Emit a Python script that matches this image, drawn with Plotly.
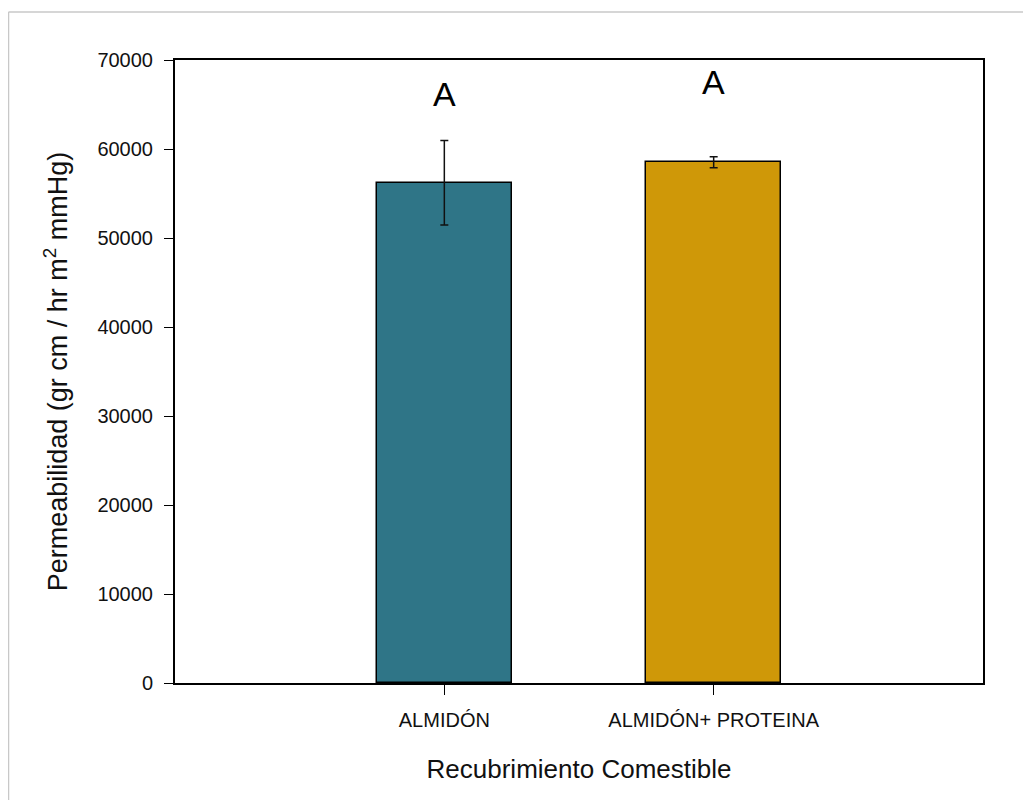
import plotly.graph_objects as go

categories = ["ALMIDÓN", "ALMIDÓN+ PROTEINA"]
positions = [1, 2]
means = [56200, 58500]
errors = [4750, 620]
bar_colors = ["#2f7587", "#cf9808"]
letters = ["A", "A"]
letter_y = [66200, 67500]
y_ticks = [0, 10000, 20000, 30000, 40000, 50000, 60000, 70000]

# page has an 8px body margin, so the figure is placed at (8, 8)
OFF = 8
W, H = 1031 - OFF, 800 - OFF
L, T = 175 - OFF, 60 - OFF
R = W - (983 - OFF)
B = H - (683 - OFF)
pw, ph = W - L - R, H - T - B

fig = go.Figure()
fig.add_trace(go.Bar(
    x=positions, y=means, width=0.5,
    marker=dict(color=bar_colors, line=dict(color="#000000", width=1.5)),
    error_y=dict(type="data", array=errors, visible=True, color="#111111",
                 thickness=1.5, width=4),
    showlegend=False, hoverinfo="skip",
))

for xp, yp, t in zip(positions, letter_y, letters):
    fig.add_annotation(x=xp, y=yp, text=t, showarrow=False,
                       font=dict(family="Liberation Sans, Arial", size=34, color="#000000"))

def px_x(p):
    return (p - OFF - L) / pw

def px_y(p):
    return (H - B - (p - OFF)) / ph

# outer image frame (thin gray lines at top and left)
fig.add_shape(type="line", xref="paper", yref="paper",
              x0=px_x(8.5), x1=px_x(1031), y0=px_y(12), y1=px_y(12),
              line=dict(color="#c8c8c8", width=1.5))
fig.add_shape(type="line", xref="paper", yref="paper",
              x0=px_x(8.5), x1=px_x(8.5), y0=px_y(12), y1=px_y(800),
              line=dict(color="#c8c8c8", width=1.5))

fig.update_layout(
    width=W, height=H,
    margin=dict(l=L, r=R, t=T, b=B, pad=0),
    paper_bgcolor="#ffffff", plot_bgcolor="#ffffff",
    font=dict(family="Liberation Sans, Arial", color="#111111"),
    bargap=0,
    xaxis=dict(
        range=[0, 3], tickmode="array", tickvals=positions, ticktext=categories,
        ticks="outside", ticklen=10, tickwidth=1, tickcolor="#000000",
        ticklabelstandoff=8,
        showline=True, linecolor="#000000", linewidth=2, mirror=True,
        showgrid=False, zeroline=False,
        tickfont=dict(size=20),
        title=dict(text="Recubrimiento Comestible", standoff=30,
                   font=dict(size=26)),
    ),
    yaxis=dict(
        range=[0, 70000], tickmode="array", tickvals=y_ticks,
        ticktext=[str(v) for v in y_ticks],
        ticks="outside", ticklen=9, tickwidth=1, tickcolor="#000000",
        ticklabelstandoff=7,
        showline=True, linecolor="#000000", linewidth=2, mirror=True,
        showgrid=False, zeroline=False,
        tickfont=dict(size=20),
        title=dict(text="Permeabilidad (gr cm / hr m<sup>2</sup> mmHg)", standoff=22,
                   font=dict(size=27)),
    ),
)

fig.write_html("out.html")
